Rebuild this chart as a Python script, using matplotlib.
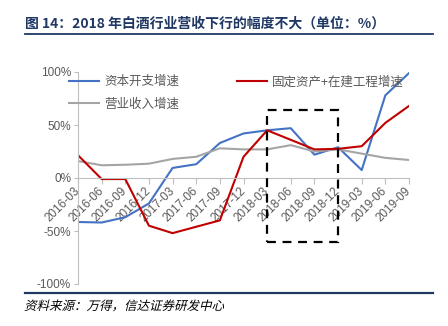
import matplotlib
matplotlib.use("Agg")
import matplotlib.pyplot as plt
from matplotlib.lines import Line2D
from matplotlib.patches import Rectangle, PathPatch
from matplotlib.textpath import TextPath
from matplotlib.font_manager import FontProperties
from matplotlib.transforms import Affine2D, IdentityTransform

plt.rcParams['font.family'] = ['Noto Sans CJK SC', 'DejaVu Sans']
plt.rcParams['axes.unicode_minus'] = False

quarters = ['2016-03', '2016-06', '2016-09', '2016-12', '2017-03', '2017-06',
            '2017-09', '2017-12', '2018-03', '2018-06', '2018-09', '2018-12',
            '2019-03', '2019-06', '2019-09']
capex = [-41.5, -42, -37, -24, 9.5, 13, 33, 42, 45, 47, 22, 29, 7.5, 78, 99]
fixed_assets = [21.5, -1, -1, -45, -52, -46, -40, 20, 45, 36, 27, 27.5, 30, 52, 68]
revenue = [16, 12, 12.5, 13.5, 18, 20, 28, 27, 27, 31, 25, 27, 23, 19, 17]
y_ticks = [-100, -50, 0, 50, 100]

navy = '#1F3864'
label_gray = '#595959'
num_font = ['Liberation Sans', 'DejaVu Sans']

fig = plt.figure(figsize=(4.48, 3.26), dpi=100)
ax = fig.add_axes([78 / 448, 42 / 326, 331 / 448, 212 / 326])

# spine position first: moving it resets the tick labels
for s in ['top', 'right']:
    ax.spines[s].set_visible(False)
ax.spines['left'].set_color('#BFBFBF')
ax.spines['bottom'].set_color('#BFBFBF')
ax.spines['bottom'].set_position(('data', 0))

x = list(range(len(quarters)))
l1, = ax.plot(x, capex, color='#4472C4', lw=1.5, label='资本开支增速')
l3, = ax.plot(x, revenue, color='#A5A5A5', lw=1.5, label='营业收入增速')
l2, = ax.plot(x, fixed_assets, color='#C00000', lw=1.5, label='固定资产+在建工程增速')

# highlighted 2018 window
ax.add_patch(Rectangle((8, -60), 3, 124, fill=False, ec='black', lw=1.6,
                       ls=(0, (4, 3)), zorder=5))

ax.set_xlim(0, 14)
ax.set_ylim(-100, 100)
ax.set_yticks(y_ticks)
ax.set_yticklabels([f'{v}%' for v in y_ticks], family=num_font)
ax.set_xticks(x)
ax.set_xticklabels(quarters, rotation=45, ha='right', va='center',
                   rotation_mode='anchor', family=num_font)
ax.tick_params(axis='y', colors='#BFBFBF', labelcolor=label_gray,
               labelsize=8.5, length=3, pad=2)
ax.tick_params(axis='x', colors='#BFBFBF', labelcolor=label_gray,
               labelsize=8.5, length=4, pad=4)

leg = fig.legend(handles=[l1, l3, l2], ncol=2, frameon=False,
                 loc='upper left', bbox_to_anchor=(58 / 448, 1 - 64 / 326),
                 fontsize=9, handlelength=2.4, columnspacing=4.6,
                 labelspacing=0.75, handletextpad=0.4)
for t in leg.get_texts():
    t.set_color(label_gray)

fig.text(25 / 448, 1 - 24 / 326, '图 14：2018 年白酒行业营收下行的幅度不大（单位：%）',
         fontsize=10, fontweight='bold', color=navy, va='center', ha='left')
fig.add_artist(Line2D([25 / 448, 433 / 448], [1 - 34 / 326] * 2,
                      color=navy, lw=1.3))
fig.add_artist(Line2D([25 / 448, 433 / 448], [1 - 293 / 326] * 2,
                      color=navy, lw=1.6))

# slanted source note (CJK font has no italic face)
src = TextPath((0, 0), '资料来源：万得，信达证券研发中心', size=12.5,
               prop=FontProperties(family='Noto Sans CJK SC'))
fig.add_artist(PathPatch(src, fc='black', ec='none',
                         transform=Affine2D().skew_deg(14, 0).translate(24, 326 - 310)
                         + IdentityTransform()))

fig.savefig('out.png', dpi=100)
